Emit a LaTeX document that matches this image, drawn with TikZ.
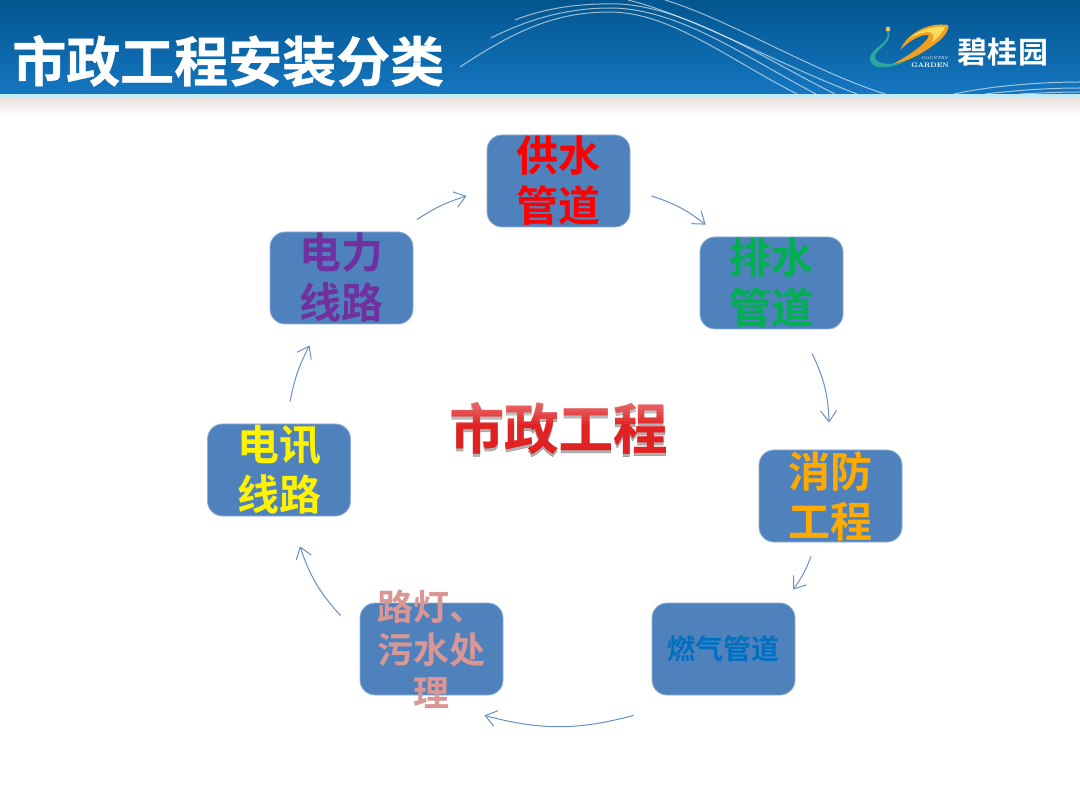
\documentclass[tikz,border=0pt]{standalone}
\usepackage{fontspec}
\usetikzlibrary{arrows.meta}
\newfontfamily\cjk[BoldFont=Noto Sans CJK SC Bold]{Noto Sans CJK SC}
\newfontfamily\cjkheavy[FakeBold=0.6]{Noto Sans CJK SC Bold}
\definecolor{boxfill}{HTML}{4F81BD}
\definecolor{boxline}{HTML}{8FB0D8}
\definecolor{flowline}{HTML}{6690C6}
\definecolor{hdtop}{HTML}{03568F}
\definecolor{hdbot}{HTML}{1576C0}
\definecolor{hdmid}{HTML}{0C66AC}
\definecolor{hdline}{HTML}{BEEBF5}
\definecolor{hdshade}{HTML}{E6E0DC}
\definecolor{logoorange}{HTML}{F0A020}
\definecolor{logoyellow}{HTML}{F8DC60}
\definecolor{logoteal}{HTML}{2AA5A0}
\definecolor{logogold}{HTML}{E6BE5A}
\definecolor{tgreen}{HTML}{00B050}
\definecolor{torange}{HTML}{FFAA00}
\definecolor{tblue}{HTML}{0070C0}
\definecolor{tpink}{HTML}{D99694}
\definecolor{tpurple}{HTML}{7030A0}
\definecolor{tred}{HTML}{E02222}
\tikzset{
 every node/.style={font=\cjk\bfseries},
 card/.style={draw=boxline,line width=.8pt,fill=boxfill,rounded corners=15pt,minimum width=143pt,minimum height=92pt,inner sep=0pt},
 big/.style={align=center,font=\fontsize{42}{50}\cjk\bfseries},
 flow/.style={draw=flowline,line width=1pt,-{Straight Barb[length=11pt,width=16pt,line width=1pt]}},
 swoosh/.style={draw=white,opacity=.6,line width=1pt},
}
\begin{document}
\begin{tikzpicture}[x=1pt,y=-1pt]
\useasboundingbox (0,0) rectangle (1080,810);
\fill[white] (0,0) rectangle (1080,810);
% header band
\shade[top color=hdshade,bottom color=white] (0,96) rectangle (1080,116);
\shade[top color=hdtop,bottom color=hdbot] (0,0) rectangle (1080,94);
\fill[hdline] (0,94) rectangle (1080,97);
% swooshes
\draw[swoosh] (460,67) .. controls (520,27) and (560,12) .. (610,12) .. controls (670,12) and (730,60) .. (797,94);
\draw[swoosh] (491,38) .. controls (530,18) and (570,8) .. (610,8) .. controls (680,8) and (750,60) .. (816,94);
\draw[swoosh] (515,20) .. controls (545,8) and (580,3) .. (620,4) .. controls (690,8) and (770,62) .. (835,94);
\draw[swoosh] (628,0) .. controls (690,15) and (780,65) .. (857,94);
\draw[swoosh] (665,0) .. controls (730,20) and (810,70) .. (885,94);
\draw[swoosh] (954,94) .. controls (990,86) and (1040,82) .. (1080,82);
\draw[swoosh] (985,94) .. controls (1020,90) and (1050,88) .. (1080,88);
\draw[swoosh] (1020,94) .. controls (1040,93) and (1060,92) .. (1080,92);
% title
\node[anchor=west,white,font=\fontsize{54}{54}\cjkheavy,inner sep=0pt] (title) at (12,61) {市政工程安装分类};
% logo
\fill[logoteal] (887,31) .. controls (892,44) and (868,48) .. (870,60) .. controls (872,70) and (888,69) .. (905,62) .. controls (892,65) and (878,65) .. (875,58) .. controls (873,50) and (893,44) .. (889,31) -- cycle;
\fill[logoorange] (893,64) .. controls (908,62) and (925,52) .. (939,41) .. controls (947,34) and (950,27) .. (948,25) .. controls (930,22) and (908,32) .. (900,50) .. controls (908,42) and (920,34) .. (929,35) .. controls (928,43) and (905,58) .. (893,64) -- cycle;
\fill[logoyellow] (906,41) .. controls (915,32) and (930,26) .. (945,26.5) .. controls (944,31) and (938,38) .. (932,42) .. controls (935,36) and (934,32) .. (927,32) .. controls (920,33) and (912,36) .. (906,41) -- cycle;
\fill[logogold] (888,29) circle (2.4);
\node[white,font=\fontsize{4}{4}\selectfont,inner sep=0pt] (logoword1) at (935,58.5) {COUNTRY};
\node[white,font=\fontsize{6.5}{6.5}\selectfont\bfseries,inner sep=0pt] (logoword2) at (930,65) {GARDEN};
\node[white,font=\fontsize{30}{30}\cjk\bfseries,inner sep=0pt] (logocn) at (1003,52) {碧\kern1pt 桂\kern1pt 园};
% cards
\node[card] (gs) at (558.5,181) {};
\node[big,red] at (gs) {供水\\管道};
\node[card] (ps) at (771.5,283) {};
\node[big,tgreen] at (ps) {排水\\管道};
\node[card] (xf) at (830.5,496) {};
\node[big,torange] at (xf) {消防\\工程};
\node[card] (rq) at (723.5,649) {};
\node[tblue,font=\fontsize{28}{32}\cjk\bfseries] at (rq) {燃气管道};
\node[card] (ld) at (431.5,649) {};
\node[align=center,tpink,font=\fontsize{36}{43}\cjk\bfseries] at (ld) {路灯、\\污水处\\理};
\node[card] (dx) at (279,470) {};
\node[big,yellow] at (dx) {电讯\\线路};
\node[card] (dl) at (341.5,278) {};
\node[big,tpurple] at (dl) {电力\\线路};
% connectors
\draw[flow] ([shift={(21,15)}]gs.east) to[bend left=10] ([shift={(6,-12)}]ps.north west);
\draw[flow] ([shift={(40.5,24)}]ps.south) to[bend left=12] ([shift={(-1.5,-27)}]xf.north);
\draw[flow] ([shift={(-19.5,14)}]xf.south) to[bend left=8] ([shift={(69.5,-13)}]rq.north);
\draw[flow] ([shift={(-18,20)}]rq.south west) to[bend left=15] ([shift={(-19,20)}]ld.south east);
\draw[flow] ([shift={(-19,13)}]ld.north west) to[bend left=12] ([shift={(21,30)}]dx.south);
\draw[flow] ([shift={(11,-22)}]dx.north) to[bend left=8] ([shift={(-32,21)}]dl.south);
\draw[flow] ([shift={(3.5,-12)}]dl.north east) to[bend left=8] ([shift={(-20,15)}]gs.west);
% centre title
\node[opacity=.3,black,font=\fontsize{54.5}{54}\cjkheavy] (centreshadow) at (558.5,431) {市政工程};
\node[tred,font=\fontsize{54.5}{54}\cjkheavy] (center) at (558.5,428) {市政工程};
\foreach \i in {0,...,7}{
 \fill[white,opacity=.05] (445,400) rectangle (672,{403+\i*3});
}
\end{tikzpicture}
\end{document}
